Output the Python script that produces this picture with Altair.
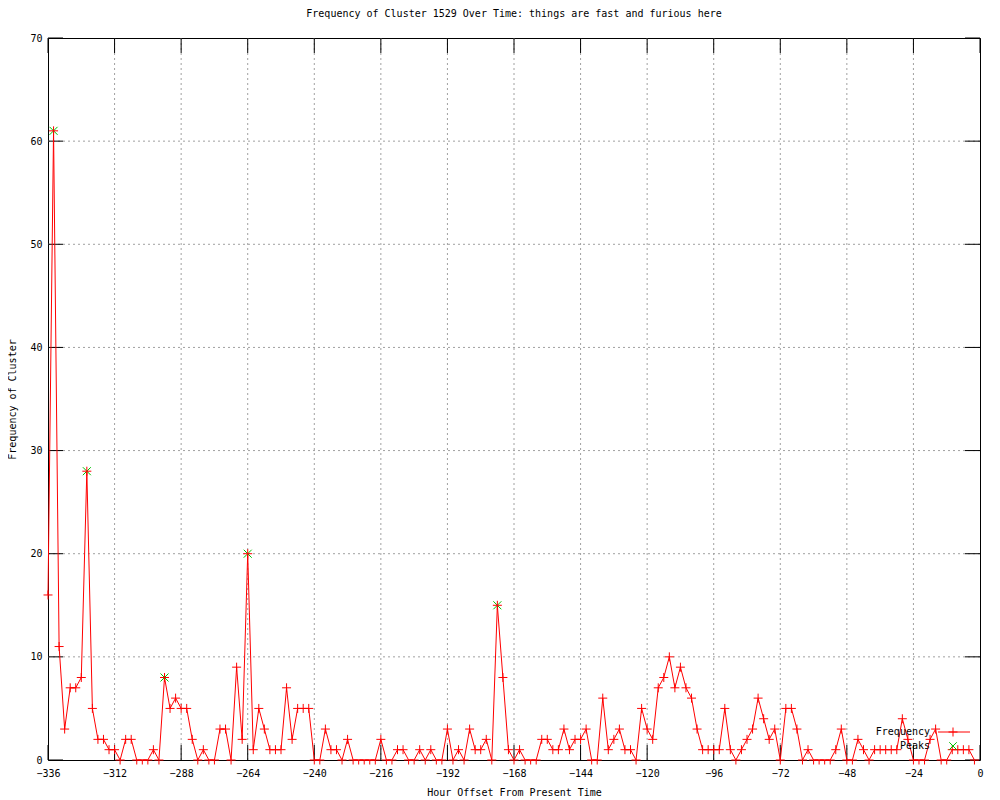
import altair as alt
import pandas as pd

# ---- data ----
hours = list(range(-336, 0, 2))
freq = [
    16, 61, 11, 3, 7, 7, 8, 28, 5, 2, 2, 1,
    1, 0, 2, 2, 0, 0, 0, 1, 0, 8, 5, 6,
    5, 5, 2, 0, 1, 0, 0, 3, 3, 0, 9, 2,
    20, 1, 5, 3, 1, 1, 1, 7, 2, 5, 5, 5,
    0, 0, 3, 1, 1, 0, 2, 0, 0, 0, 0, 0,
    2, 0, 0, 1, 1, 0, 0, 1, 0, 1, 0, 0,
    3, 0, 1, 0, 3, 1, 1, 2, 0, 15, 8, 1,
    0, 1, 0, 0, 0, 2, 2, 1, 1, 3, 1, 2,
    2, 3, 0, 0, 6, 1, 2, 3, 1, 1, 0, 5,
    3, 2, 7, 8, 10, 7, 9, 7, 6, 3, 1, 1,
    1, 1, 5, 1, 0, 1, 2, 3, 6, 4, 2, 3,
    0, 5, 5, 3, 0, 1, 0, 0, 0, 0, 1, 3,
    0, 0, 2, 1, 0, 1, 1, 1, 1, 1, 4, 2,
    0, 0, 0, 2, 3, 0, 0, 1, 1, 1, 1, 0,
]
peak_hours = [-334, -322, -294, -264, -174]
peak_vals = [61, 28, 8, 20, 15]
x_ticks = [-336, -312, -288, -264, -240, -216, -192, -168, -144, -120, -96, -72, -48, -24, 0]
y_ticks = [0, 10, 20, 30, 40, 50, 60, 70]
legend_labels = ["Frequency", "Peaks"]

title_text = "Frequency of Cluster 1529 Over Time: things are fast and furious here"
x_title = "Hour Offset From Present Time"
y_title = "Frequency of Cluster"

W, H = 932, 722
TICK = 15
RED = "#ff0000"
GREEN = "#00c000"
GRID = "#a0a0a0"
FONT = "DejaVu Sans Mono"
PLUS = "M-1,0L1,0M0,-1L0,1"
HALF_PLUS = "M-1,0L1,0M0,0L0,1"
CROSS = "M-1,-1L1,1M1,-1L-1,1"

df = pd.DataFrame({"hour": hours, "freq": freq})
peaks = pd.DataFrame({"hour": peak_hours, "freq": peak_vals})
xt = pd.DataFrame({"hour": x_ticks})
yt = pd.DataFrame({"freq": y_ticks})
xg = pd.DataFrame({"hour": x_ticks[1:-1]})
yg = pd.DataFrame({"freq": y_ticks[1:-1]})
leg = pd.DataFrame({"label": legend_labels})

xscale = alt.Scale(domain=[-336, 0], nice=False, zero=False)
yscale = alt.Scale(domain=[0, 70], nice=False, zero=True)

X = alt.X("hour:Q", scale=xscale, title=x_title,
          axis=alt.Axis(values=x_ticks, format="d", grid=False, ticks=False, tickSize=0,
                        domain=False, labelPadding=8, titlePadding=9,
                        labelBaseline="top", labelFlush=False, labelOverlap=False))
Y = alt.Y("freq:Q", scale=yscale, title=y_title,
          axis=alt.Axis(values=y_ticks, format="d", grid=False, ticks=False, tickSize=0,
                        domain=False, labelPadding=6, titlePadding=12,
                        labelFlush=False, labelOverlap=False))

grid_x = alt.Chart(xg).mark_rule(color=GRID, strokeWidth=1, strokeDash=[2, 3]).encode(
    x=X, y=alt.value(0), y2=alt.value(H))
grid_y = alt.Chart(yg).mark_rule(color=GRID, strokeWidth=1, strokeDash=[2, 3]).encode(
    y=Y, x=alt.value(0), x2=alt.value(W))

line = alt.Chart(df).mark_line(color=RED, strokeWidth=1).encode(x=X, y=Y)
pts = alt.Chart(df).mark_point(filled=False, color=RED, strokeWidth=1, size=81, opacity=1).encode(
    x=X, y=Y,
    shape=alt.condition("datum.freq == 0", alt.value(HALF_PLUS), alt.value(PLUS)),
)
pk = alt.Chart(peaks).mark_point(filled=False, color=GREEN, strokeWidth=1, size=64, shape=CROSS, opacity=1).encode(x=X, y=Y)

xt_bot = alt.Chart(xt).mark_rule(color="black", strokeWidth=1).encode(x=X, y=alt.value(H), y2=alt.value(H - TICK))
xt_top = alt.Chart(xt).mark_rule(color="black", strokeWidth=1).encode(x=X, y=alt.value(0), y2=alt.value(TICK))
yt_left = alt.Chart(yt).mark_rule(color="black", strokeWidth=1).encode(y=Y, x=alt.value(0), x2=alt.value(TICK))
yt_right = alt.Chart(yt).mark_rule(color="black", strokeWidth=1).encode(y=Y, x=alt.value(W - TICK), x2=alt.value(W))

leg_freq = leg[leg.label == "Frequency"]
leg_peak = leg[leg.label == "Peaks"]
lt1 = alt.Chart(leg_freq).mark_text(align="right", baseline="middle", font=FONT, fontSize=10, color="black").encode(
    x=alt.value(882), y=alt.value(694), text="label:N")
lt2 = alt.Chart(leg_peak).mark_text(align="right", baseline="middle", font=FONT, fontSize=10, color="black").encode(
    x=alt.value(882), y=alt.value(708), text="label:N")
lline = alt.Chart(leg_freq).mark_rule(color=RED, strokeWidth=1).encode(
    x=alt.value(890), x2=alt.value(922), y=alt.value(694))
lplus = alt.Chart(leg_freq).mark_point(filled=False, color=RED, strokeWidth=1, size=81, shape=PLUS, opacity=1).encode(
    x=alt.value(905), y=alt.value(694))
lcross = alt.Chart(leg_peak).mark_point(filled=False, color=GREEN, strokeWidth=1, size=56, shape=CROSS, opacity=1).encode(
    x=alt.value(905), y=alt.value(708))

chart = alt.layer(
    grid_x, grid_y, xt_bot, xt_top, yt_left, yt_right,
    line, pk, pts, lt1, lt2, lline, lplus, lcross
).properties(
    width=W, height=H,
    title=alt.TitleParams(title_text, font=FONT, fontSize=10, fontWeight="normal",
                          anchor="middle", offset=14, color="black"),
    autosize=alt.AutoSizeParams(type="none"),
    padding={"left": 40, "top": 30, "right": 12, "bottom": 40},
).configure_view(
    stroke="black", strokeWidth=1
).configure_axis(
    labelFont=FONT, labelFontSize=10, labelColor="black",
    titleFont=FONT, titleFontSize=10, titleFontWeight="normal", titleColor="black",
)

chart.save("out.html", embed_options={"renderer": "svg", "actions": False})
